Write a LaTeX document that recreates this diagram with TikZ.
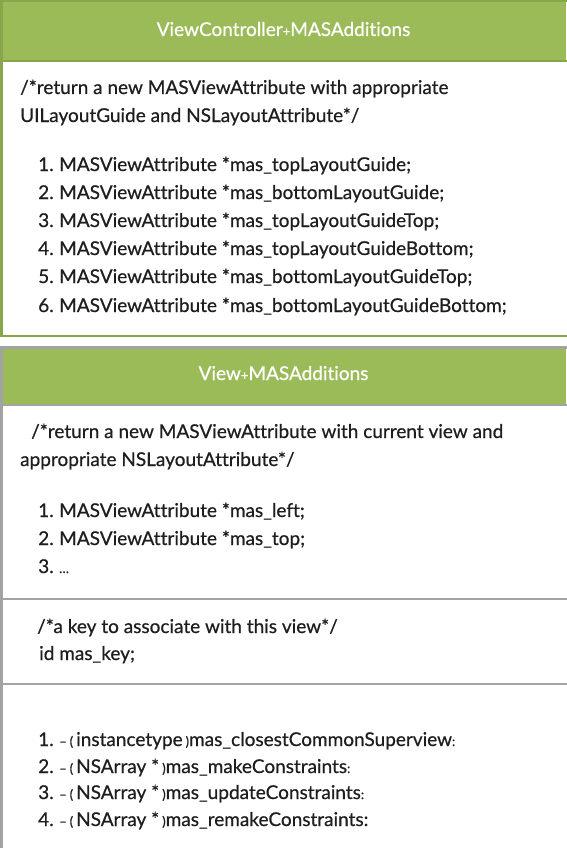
\documentclass[tikz,border=0pt]{standalone}
\usepackage{fontspec}
\setmainfont{Lato}[Ligatures=NoCommon, FakeBold=0.6]
\definecolor{hdr}{HTML}{9BBB59}
\definecolor{gline}{HTML}{87A64C}
\definecolor{grayline}{HTML}{A3A3A3}
\definecolor{txt}{HTML}{1E1E1E}
\newcommand{\sm}[1]{{\fontsize{13}{13}\selectfont #1}}
\newcommand{\num}[1]{\makebox[21pt][l]{#1}}
\newcommand{\opn}{\sm{–\hspace{3pt}(}\hspace{3pt}}
\newcommand{\cls}{\hspace{3pt}\sm{)}}
\tikzset{
  body/.style={anchor=base west, inner sep=0pt, text=txt, font=\fontsize{19}{19}\selectfont},
  head/.style={anchor=base, inner sep=0pt, text=white, font=\fontsize{19}{19}\selectfont},
}
\begin{document}
\begin{tikzpicture}[x=1pt,y=-1pt]
\useasboundingbox (0,0) rectangle (566,848);
% box 1
\fill[hdr] (0,0) rectangle (566,61);
\draw[gline, line width=2.5pt] (567,1.25) -- (1.25,1.25) -- (1.25,336) -- (567,336);
\draw[gline, line width=2pt] (0,61) -- (567,61);
\node[head] (h1) at (283.5,36) {ViewController\sm{+}MASAdditions};
\node[body] (c1) at (20,94) {/*return a new MASViewAttribute with appropriate};
\node[body] (c2) at (20,122) {UILayoutGuide and NSLayoutAttribute*/};
\node[body] (a1) at (38,171) {\num{1.}MASViewAttribute *mas\_topLayoutGuide;};
\node[body] (a2) at (38,199) {\num{2.}MASViewAttribute *mas\_bottomLayoutGuide;};
\node[body] (a3) at (38,227) {\num{3.}MASViewAttribute *mas\_topLayoutGuideTop;};
\node[body] (a4) at (38,255) {\num{4.}MASViewAttribute *mas\_topLayoutGuideBottom;};
\node[body] (a5) at (38,283) {\num{5.}MASViewAttribute *mas\_bottomLayoutGuideTop;};
\node[body] (a6) at (38,312) {\num{6.}MASViewAttribute *mas\_bottomLayoutGuideBottom;};
% box 2
\fill[hdr] (0,347) rectangle (566,405);
\draw[grayline, line width=2.5pt] (567,347.25) -- (1.25,347.25) -- (1.25,850);
\draw[grayline, line width=2pt] (0,405) -- (567,405);
\draw[grayline, line width=2pt] (0,599) -- (567,599);
\draw[grayline, line width=2pt] (0,684) -- (567,684);
\node[head] (h2) at (283.5,380) {View\sm{+}MASAdditions};
\node[body] (d1) at (31,438) {/*return a new MASViewAttribute with current view and};
\node[body] (d2) at (20,466) {appropriate NSLayoutAttribute*/};
\node[body] (b1) at (38,517) {\num{1.}MASViewAttribute *mas\_left;};
\node[body] (b2) at (38,545) {\num{2.}MASViewAttribute *mas\_top;};
\node[body] (b3) at (38,573) {\num{3.}\sm{\ldots}};
\node[body] (k1) at (37,633) {/*a key to associate with this view*/};
\node[body] (k2) at (39,660) {id mas\_key;};
\node[body] (m1) at (38,746) {\num{1.}\opn instancetype\cls mas\_closestCommonSuperview\sm{:}};
\node[body] (m2) at (38,773) {\num{2.}\opn NSArray *\cls mas\_makeConstraints\sm{:}};
\node[body] (m3) at (38,799) {\num{3.}\opn NSArray *\cls mas\_updateConstraints\sm{:}};
\node[body] (m4) at (38,826) {\num{4.}\opn NSArray *\cls mas\_remakeConstraints:};
\end{tikzpicture}
\end{document}
